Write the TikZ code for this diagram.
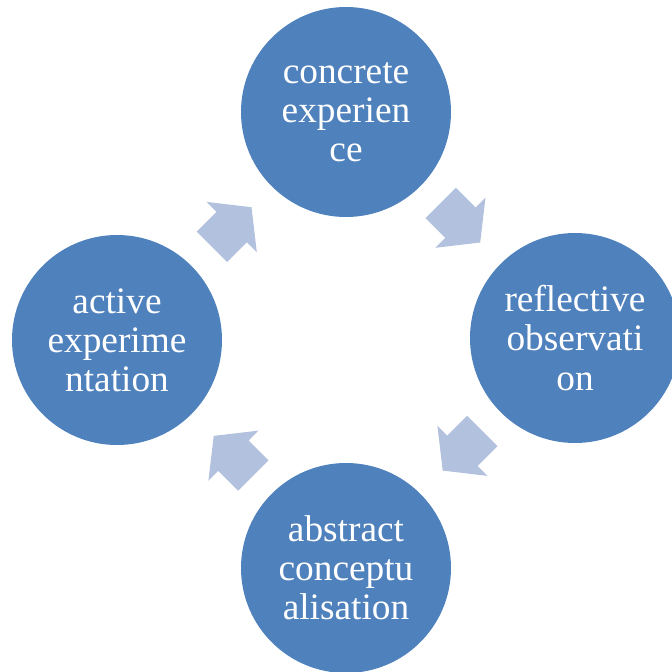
\documentclass[tikz,border=0pt]{standalone}
\usepackage{fontspec}
\setmainfont{Liberation Serif}
\definecolor{cyc}{HTML}{4F81BD}
\definecolor{arr}{HTML}{B2C1DD}
\begin{document}
\begin{tikzpicture}[x=0.75pt,y=-0.75pt,
  stage/.style={circle, fill=cyc, minimum size=157.5pt, inner sep=0pt, text=white, align=center, font=\fontsize{28}{29.3}\selectfont},
  flow/.style={fill=arr}]
\useasboundingbox (0,0) rectangle (672,672);
\clip (0,0) rectangle (672,672);
\node[stage] (ce) at (346,112) {concrete\\experien\\ce};
\node[stage] (ro) at (575,338) {reflective\\observati\\on};
\node[stage] (ac) at (346,568) {abstract\\conceptu\\alisation};
\node[stage] (ae) at (117,340) {active\\experime\\ntation};
\foreach \cx/\cy/\ang in {460.4/222.7/-45, 462.5/450.8/-135, 233.5/455.7/135, 231.7/227/45}{
  \begin{scope}[shift={(\cx,\cy)}, rotate=\ang]
    \fill[flow] (-28,-21.5) -- (0,-21.5) -- (0,-35.5) -- (28,0) -- (0,35.5) -- (0,21.5) -- (-28,21.5) -- cycle;
  \end{scope}
}
\end{tikzpicture}
\end{document}
